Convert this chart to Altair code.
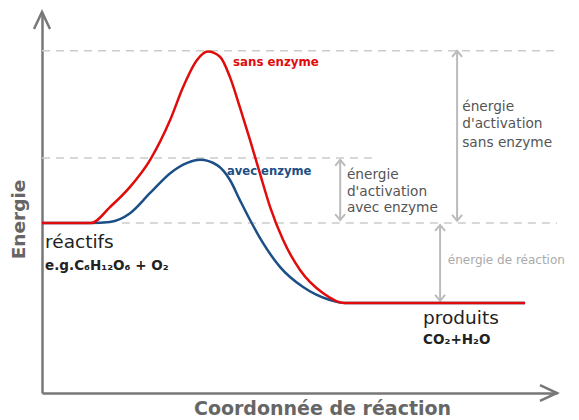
import altair as alt
import pandas as pd

# ---- data (reaction coordinate 0-100, energy 0-100) ----
red_x = [0, 9.5, 13.2, 17.1, 21.0, 24.9, 27.4, 30.1, 32.2, 34.6, 36.5, 38.4, 40.4, 42.3, 44.3,
         46.8, 50.1, 54.6, 58.8, 93.8]
red_e = [44.6, 44.6, 48.8, 54.1, 61.2, 71.7, 80.3, 87.4, 89.6, 88.2, 82.9, 75.1, 66.4, 57.7, 48.8,
         40.2, 32.3, 26.2, 23.6, 23.6]
blue_x = [0, 9.5, 13.2, 17.1, 21.0, 24.9, 28.2, 30.7, 34.0, 36.5, 38.4, 40.4, 42.9, 46.2, 50.7,
          55.9, 58.8, 93.8]
blue_e = [44.6, 44.6, 44.9, 47.2, 52.5, 57.7, 60.4, 61.2, 59.8, 55.9, 50.7, 45.4, 39.4, 33.1, 27.8,
          24.4, 23.6, 23.6]

reactant_e = 44.6
product_e = 23.6
peak_sans = 89.8
peak_avec = 61.2

# reference dashed levels: (x start, x end, level)
dash_x = [0, 0, 15.5]
dash_x2 = [100, 65, 100]
dash_e = [peak_sans, 61.7, reactant_e]

# double arrows: position, top, bottom
arrow_x = [80.6, 57.9, 77.3]
arrow_top = [peak_sans, peak_avec, 44.1]
arrow_bot = [reactant_e + 0.6, 45.4, 24.2]

RED = "#e00c0c"
BLUE = "#1c4f85"
AXIS = "#777777"

xs = alt.Scale(domain=[0, 100], nice=False, zero=False)
ys = alt.Scale(domain=[0, 100], nice=False, zero=False)
xaxis = alt.Axis(title="Coordonnée de réaction", labels=False, ticks=False, grid=False,
                 domainColor=AXIS, domainWidth=2.5, titleFont="DejaVu Sans", titleFontSize=19,
                 titleFontWeight="bold", titleColor="#666666", titleX=280, titleY=15,
                 titleBaseline="middle")
yaxis = alt.Axis(title="Energie", labels=False, ticks=False, grid=False,
                 domainColor=AXIS, domainWidth=2.5, titleFont="DejaVu Sans", titleFontSize=18.5,
                 titleFontWeight="bold", titleColor="#666666", titleX=-24, titleY=207,
                 titleAngle=270, titleBaseline="middle")

X = alt.X("x:Q", scale=xs, axis=xaxis)
Y = alt.Y("y:Q", scale=ys, axis=yaxis)

curves = pd.DataFrame({
    "x": red_x + blue_x,
    "y": red_e + blue_e,
    "s": ["sans"] * len(red_x) + ["avec"] * len(blue_x),
})
dash_df = pd.DataFrame({"x": dash_x, "x2": dash_x2, "y": dash_e})
arr_df = pd.DataFrame({"x": arrow_x, "y": arrow_top, "y2": arrow_bot})
heads_df = pd.DataFrame({
    "x": arrow_x + arrow_x,
    "y": arrow_top + arrow_bot,
    "a": [0] * 3 + [180] * 3,
})
axis_heads = pd.DataFrame({"x": [0, 100], "y": [100, 0], "a": [0, 90]})

dashes = alt.Chart(dash_df).mark_rule(color="#cccccc", strokeWidth=1.5, strokeDash=[8, 6]).encode(
    x=X, x2="x2:Q", y=Y)
shafts = alt.Chart(arr_df).mark_rule(color="#bbbbbb", strokeWidth=2).encode(x=X, y=Y, y2="y2:Q")
heads = alt.Chart(heads_df).mark_point(shape="M-1,1.2L0,0L1,1.2", size=100, filled=False,
                                       color="#bbbbbb", strokeWidth=2, opacity=1).encode(
    x=X, y=Y, angle=alt.Angle("a:Q", scale=None))
blue = alt.Chart(curves).transform_filter(alt.datum.s == "avec").mark_line(
    color=BLUE, strokeWidth=2.5, interpolate="monotone").encode(x=X, y=Y, order="x:Q")
red = alt.Chart(curves).transform_filter(alt.datum.s == "sans").mark_line(
    color=RED, strokeWidth=2.5, interpolate="monotone").encode(x=X, y=Y, order="x:Q")
aheads = alt.Chart(axis_heads).mark_point(shape="M-0.47,1L0,0L0.47,1", size=1156, filled=False,
                                          color=AXIS, strokeWidth=2.5, opacity=1).encode(
    x=X, y=Y, angle=alt.Angle("a:Q", scale=None))


def txt(rows, **kw):
    df = pd.DataFrame(rows, columns=["x", "y", "t"])
    return alt.Chart(df).mark_text(align="left", baseline="middle", font="DejaVu Sans", **kw).encode(
        x=X, y=Y, text="t:N")


t_sans = txt([(37.1, 86.9, "sans enzyme")], color=RED, fontSize=11.8, fontWeight="bold")
t_avec = txt([(35.9, 58.0, "avec enzyme")], color=BLUE, fontSize=11.6, fontWeight="bold")
t_act = txt([(81.6, 75.1, "énergie"), (81.6, 70.6, "d'activation"), (81.6, 65.6, "sans enzyme"),
             (59.2, 57.2, "énergie"), (59.2, 52.8, "d'activation"), (59.2, 48.6, "avec enzyme")],
            color="#555555", fontSize=13.7)
t_reac = txt([(78.8, 34.9, "énergie de réaction")], color="#aaaaaa", fontSize=12)
t_big = txt([(0.6, 39.6, "réactifs"), (74.0, 19.7, "produits")], color="#222222", fontSize=18.5)
t_form = txt([(0.6, 33.3, "e.g.C₆H₁₂O₆ + O₂"), (74.0, 13.9, "CO₂+H₂O")], color="#222222",
             fontSize=13.5, fontWeight="bold")

chart = alt.layer(dashes, shafts, heads, blue, red, aheads, t_sans, t_avec, t_act, t_reac, t_big,
                  t_form).properties(
    width=515, height=381,
    autosize=alt.AutoSizeParams(type="none"),
    padding={"left": 34, "top": 4, "right": 14, "bottom": 26},
).configure_view(stroke=None)

chart.save("out.html", embed_options={"renderer": "svg", "actions": False})
